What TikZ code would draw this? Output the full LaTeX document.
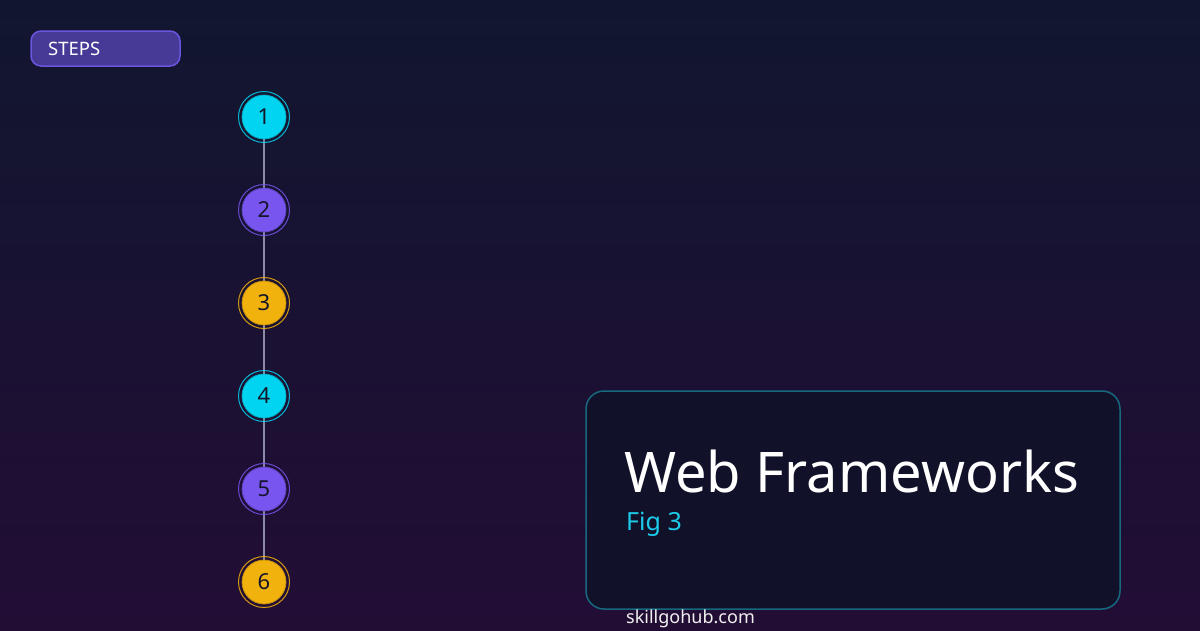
\documentclass[tikz,border=0pt]{standalone}
\usepackage{fontspec}
\setmainfont{Noto Sans}
\definecolor{bgtop}{HTML}{111630}
\definecolor{bgbot}{HTML}{220D35}
\definecolor{pillfill}{HTML}{463A96}
\definecolor{pillline}{HTML}{6A55E0}
\definecolor{ccyan}{HTML}{00D4F0}
\definecolor{cpurple}{HTML}{7755EE}
\definecolor{camber}{HTML}{F2B20E}
\definecolor{linkgray}{HTML}{8C8AA6}
\definecolor{cardfill}{HTML}{111129}
\definecolor{cardline}{HTML}{16697E}
\definecolor{figcyan}{HTML}{1CCBEA}
\definecolor{numtext}{HTML}{15152A}
\begin{document}
\begin{tikzpicture}[x=1pt,y=-1pt,
  stepdot/.style={circle,minimum size=44pt,inner sep=0pt,draw=#1!80!black,line width=0.8pt,fill=#1,
     text=numtext,font=\fontsize{22}{24}\selectfont},
  ring/.style={draw=#1,line width=1pt,opacity=0.85},
  link/.style={draw=linkgray,line width=2.2pt}]
\shade[top color=bgtop,bottom color=bgbot] (0,0) rectangle (1200,630);
\useasboundingbox (0,0) rectangle (1200,630);
% pill
\node[draw=pillline,fill=pillfill,line width=1.5pt,rounded corners=10pt,minimum width=149pt,minimum height=35pt,inner sep=0pt] (pill) at (105.5,48.5) {};
\node[anchor=base west,text=white,font=\fontsize{18.5}{20}\selectfont,inner sep=0pt] (pilltext) at (48,55.5) {STEPS};
% links
\coordinate (c1) at (264,117);
\coordinate (c2) at (264,210);
\coordinate (c3) at (264,303);
\coordinate (c4) at (264,396);
\coordinate (c5) at (264,489);
\coordinate (c6) at (264,582);
\draw[link] (c1) -- (c2);
\draw[link] (c2) -- (c3);
\draw[link] (c3) -- (c4);
\draw[link] (c4) -- (c5);
\draw[link] (c5) -- (c6);
% rings
\draw[ring=ccyan] (c1) circle (25.5);
\draw[ring=cpurple] (c2) circle (25.5);
\draw[ring=camber] (c3) circle (25.5);
\draw[ring=ccyan] (c4) circle (25.5);
\draw[ring=cpurple] (c5) circle (25.5);
\draw[ring=camber] (c6) circle (25.5);
\node[stepdot=ccyan] (s1) at (c1) {1};
\node[stepdot=cpurple] (s2) at (c2) {2};
\node[stepdot=camber] (s3) at (c3) {3};
\node[stepdot=ccyan] (s4) at (c4) {4};
\node[stepdot=cpurple] (s5) at (c5) {5};
\node[stepdot=camber] (s6) at (c6) {6};
% card
\node[draw=cardline,fill=cardfill,line width=1.5pt,rounded corners=18pt,minimum width=534pt,minimum height=218pt,inner sep=0pt] (card) at (853,500) {};
\node[anchor=base west,text=white,font=\fontsize{56}{60}\selectfont,inner sep=0pt] (title) at (624,492) {Web Frameworks};
\node[anchor=base west,text=figcyan,font=\fontsize{25}{28}\selectfont,inner sep=0pt] (fig) at (626,530) {Fig 3};
\node[anchor=base west,text=white!88!gray,font=\fontsize{18}{20}\selectfont,inner sep=0pt] (site) at (626,623) {skillgohub.com};
\end{tikzpicture}
\end{document}
